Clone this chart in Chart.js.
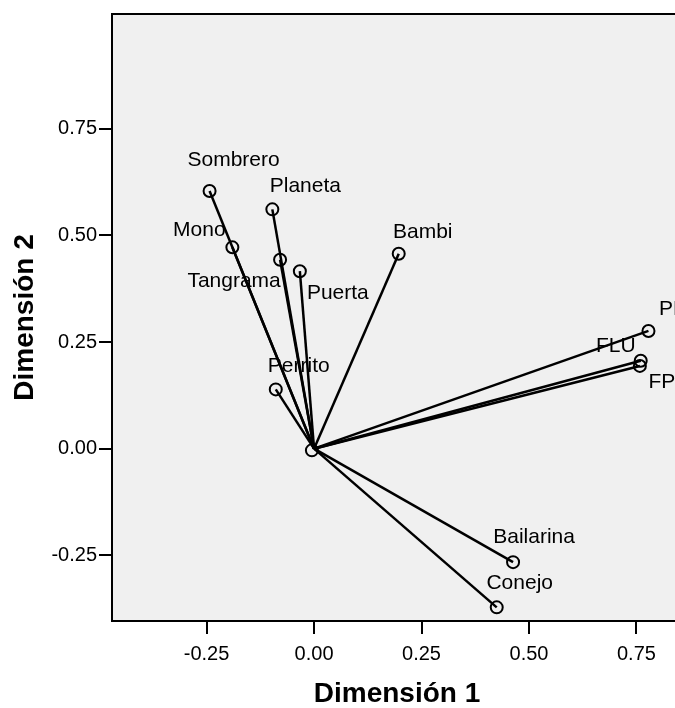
<!DOCTYPE html>
<html lang="es">
<head>
<meta charset="UTF-8">
<title>Dimensión 1 / Dimensión 2</title>
<style>
  html, body { margin: 0; padding: 0; background: #ffffff; overflow: hidden; }
  .chart-box { width: 690px; height: 708px; }
</style>
<script src="https://cdn.jsdelivr.net/npm/chart.js"></script>
</head>
<body>
<div class="chart-box">
  <canvas id="biplot"></canvas>
</div>
<script>
// variables and their loadings on the two dimensions
const names = ['Sombrero', 'Planeta', 'Mono', 'Tangrama', 'Puerta', 'Bambi', 'Perrito',
               'PN', 'FLU', 'FP', 'Bailarina', 'Conejo'];
const dim1 = [-0.243, -0.097, -0.190, -0.079, -0.033, 0.197, -0.089,
              0.778, 0.760, 0.758, 0.463, 0.425];
const dim2 = [0.604, 0.561, 0.472, 0.443, 0.416, 0.457, 0.139,
              0.276, 0.206, 0.194, -0.266, -0.372];
// unlabelled point sitting on the origin
const centerPoint = { x: -0.005, y: -0.004 };

const xTicks = [-0.25, 0.00, 0.25, 0.50, 0.75];
const yTicks = [-0.25, 0.00, 0.25, 0.50, 0.75];

// label placement (pixels from the point)
const labelOffsets = [[24, -31], [33, -23], [-33, -17], [-46, 22], [38, 22], [24, -22], [23, -23],
                      [25, -22], [-25, -15], [22, 16], [21, -25], [23, -24]];

const FONT = 'Arial, "Liberation Sans", sans-serif';

const datasets = names.map((n, i) => ({
  label: n,
  data: [{ x: 0, y: 0 }, { x: dim1[i], y: dim2[i] }],
  showLine: true,
  borderColor: '#000',
  borderWidth: 2.5,
  pointRadius: [0, 6],
  pointBorderWidth: 2,
  pointBorderColor: '#000',
  pointBackgroundColor: 'rgba(0,0,0,0)'
}));
datasets.push({
  label: '',
  data: [centerPoint],
  showLine: false,
  pointRadius: 6,
  pointBorderWidth: 2,
  pointBorderColor: '#000',
  pointBackgroundColor: 'rgba(0,0,0,0)'
});

const frame = {
  id: 'frame',
  beforeDraw(chart) {
    const a = chart.chartArea, ctx = chart.ctx;
    ctx.save();
    ctx.fillStyle = '#f0f0f0';
    ctx.fillRect(a.left, a.top, a.right - a.left, a.bottom - a.top);
    ctx.restore();
  },
  afterDraw(chart) {
    const a = chart.chartArea, ctx = chart.ctx;
    ctx.save();
    ctx.strokeStyle = '#000';
    ctx.lineWidth = 2;
    ctx.strokeRect(a.left, a.top, a.right - a.left, a.bottom - a.top);
    ctx.restore();
  }
};

const pointLabels = {
  id: 'pointLabels',
  afterDatasetsDraw(chart) {
    const ctx = chart.ctx;
    ctx.save();
    ctx.font = '21px ' + FONT;
    ctx.fillStyle = '#000';
    ctx.textAlign = 'center';
    ctx.textBaseline = 'middle';
    names.forEach((n, i) => {
      const pt = chart.getDatasetMeta(i).data[1];
      ctx.fillText(n, pt.x + labelOffsets[i][0], pt.y + labelOffsets[i][1]);
    });
    ctx.restore();
  }
};

new Chart(document.getElementById('biplot'), {
  type: 'scatter',
  data: { datasets: datasets },
  options: {
    responsive: true,
    maintainAspectRatio: false,
    animation: false,
    layout: { padding: { top: 12, right: 8, left: 0, bottom: 0 } },
    plugins: { legend: { display: false }, tooltip: { enabled: false } },
    scales: {
      x: {
        min: -0.47,
        max: 0.856,
        afterFit: s => { s.height = 87; },
        afterBuildTicks: s => { s.ticks = xTicks.map(v => ({ value: v })); },
        grid: { drawOnChartArea: false, drawTicks: true, tickLength: 13, color: '#000', lineWidth: 2 },
        border: { display: true, color: '#000', width: 2 },
        ticks: {
          color: '#000', padding: 8, maxRotation: 0,
          font: { family: FONT, size: 20 },
          callback: v => v.toFixed(2)
        },
        title: {
          display: true, text: 'Dimensión 1', color: '#000',
          font: { family: FONT, size: 28, weight: 'bold', lineHeight: 1 },
          padding: { top: -1, bottom: 0 }
        }
      },
      y: {
        min: -0.404,
        max: 1.019,
        afterFit: s => { s.width = 112; },
        afterBuildTicks: s => { s.ticks = yTicks.map(v => ({ value: v })); },
        grid: { drawOnChartArea: false, drawTicks: true, tickLength: 13, color: '#000', lineWidth: 2 },
        border: { display: true, color: '#000', width: 2 },
        ticks: {
          color: '#000', padding: 2,
          font: { family: FONT, size: 20 },
          callback: v => v.toFixed(2)
        },
        title: {
          display: true, text: 'Dimensión 2', color: '#000',
          font: { family: FONT, size: 28, weight: 'bold', lineHeight: 1 },
          padding: { top: 11, bottom: 0 }
        }
      }
    }
  },
  plugins: [frame, pointLabels]
});
</script>
</body>
</html>
